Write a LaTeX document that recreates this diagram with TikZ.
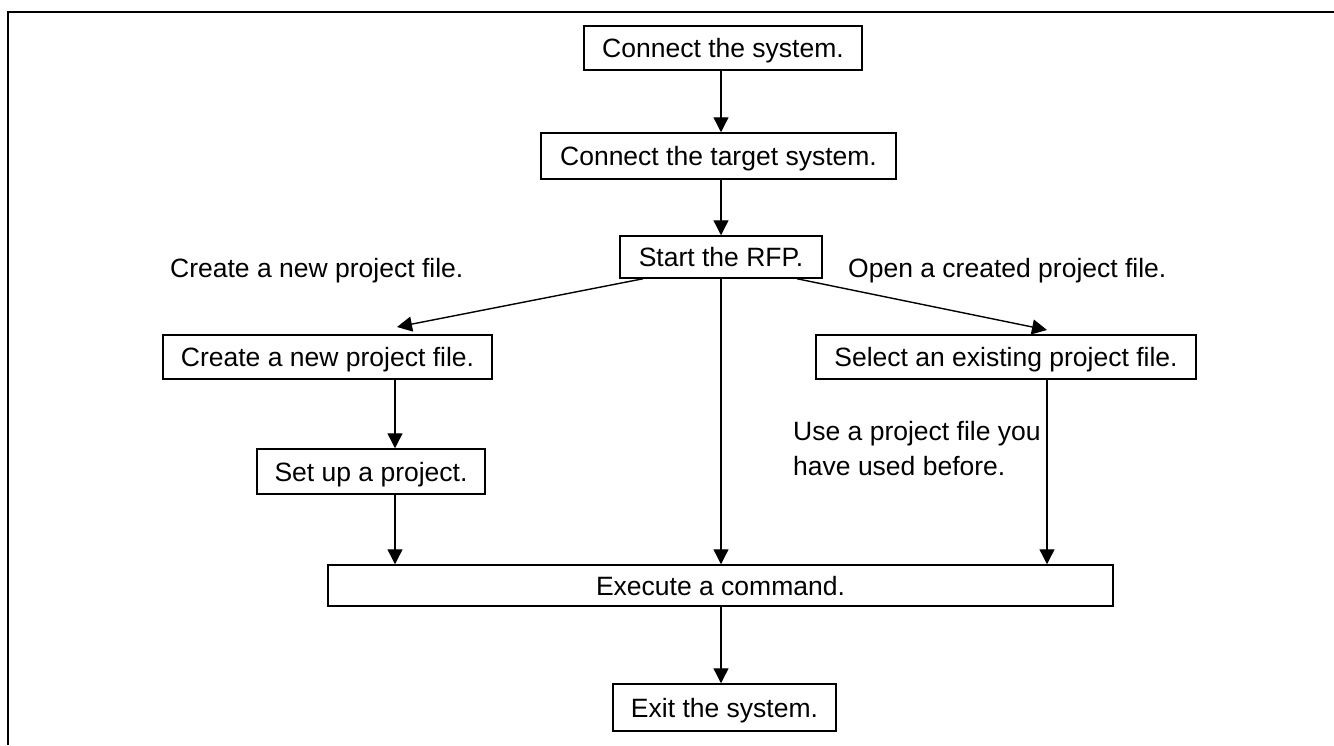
\documentclass[tikz,border=0pt]{standalone}
\usepackage{fontspec}
\setmainfont{Liberation Sans}
\usetikzlibrary{arrows.meta}
\begin{document}
\begin{tikzpicture}[x=1pt,y=-1pt,
  every node/.style={font=\fontsize{26.5}{35}\selectfont},
  stepbox/.style={draw,line width=1.5pt,inner sep=0pt,text height=19pt,text depth=0pt,anchor=center},
  lbl/.style={inner sep=0pt,anchor=base west},
  arr/.style={line width=1.4pt,-{Triangle[length=15pt,width=15pt]}}]
\useasboundingbox (0,0) rectangle (1334,745);
\draw[line width=2.6pt] (8,745) -- (8,12) -- (1334,12);
% boxes
\node[stepbox,minimum width=278pt,minimum height=44pt] (b1) at (723,48) {Connect the system.};
\node[stepbox,minimum width=355pt,minimum height=46pt] (b2) at (718.5,156) {Connect the target system.};
\node[stepbox,minimum width=202pt,minimum height=42pt] (b3) at (721,257) {Start the RFP.};
\node[stepbox,minimum width=329pt,minimum height=44pt] (b4) at (327.5,357) {Create a new project file.};
\node[stepbox,minimum width=380pt,minimum height=44pt] (b5) at (1006,357) {Select an existing project file.};
\node[stepbox,minimum width=228pt,minimum height=45pt] (b6) at (371,471.5) {Set up a project.};
\node[stepbox,minimum width=785pt,minimum height=41pt] (b7) at (720.5,585.5) {Execute a command.};
\node[stepbox,minimum width=223pt,minimum height=47pt] (b8) at (724.5,707.5) {Exit the system.};
% labels
\node[lbl] (l1) at (170,277) {Create a new project file.};
\node[lbl] (l2) at (848,277) {Open a created project file.};
\node[lbl] (l3) at (793,440) {Use a project file you};
\node[lbl] (l4) at (793,475) {have used before.};
% connector end points
\coordinate (t4) at (397,327);
\coordinate (t5) at (1047,330);
% connectors
\draw[arr] (b1.south -| 721,0) -- (b2.north -| 721,0);
\draw[arr] (b2.south -| 721,0) -- (b3.north -| 721,0);
\draw[arr] (b3.south -| 643,0) -- (t4);
\draw[arr] (b3.south -| 797,0) -- (t5);
\draw[arr] (b3.south -| 721,0) -- (b7.north -| 721,0);
\draw[arr] (b4.south -| 395,0) -- (b6.north -| 395,0);
\draw[arr] (b6.south -| 395,0) -- (b7.north -| 395,0);
\draw[arr] (b5.south -| 1047,0) -- (b7.north -| 1047,0);
\draw[arr] (b7.south -| 721,0) -- (b8.north -| 721,0);
\end{tikzpicture}
\end{document}
